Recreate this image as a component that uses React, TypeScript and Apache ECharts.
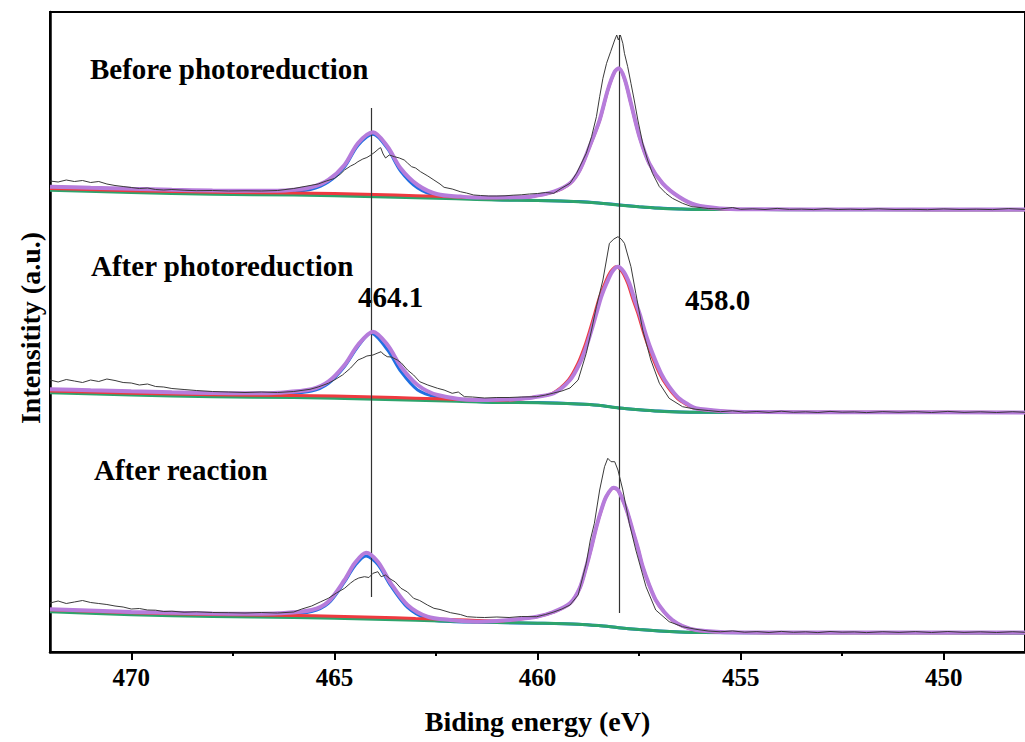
import React, { useEffect, useRef } from "react";
import * as echarts from "echarts";

// ---------- data (binding energy eV, intensity a.u.) ----------
const majorTicks = [450, 455, 460, 465, 470];
const minorTicks = [452.5, 457.5, 462.5, 467.5];
const panelLabels = ["Before photoreduction", "After photoreduction", "After reaction"];
const peakLabels = ["464.1", "458.0"];
const peakLines = [
  { energy: 464.1, from: 55, to: 544 },
  { energy: 458.0, from: 39, to: 617 },
];

// Panel 1: before photoreduction
const beforeBackground = [
  [472, 461.7], [470, 459.5], [468, 457.7], [466, 457], [464, 455.3], [462, 453.2], [461, 452],
  [460, 451.5], [459, 450.3], [458.5, 449], [458, 447], [457.5, 445.2], [457, 443.8], [456.5, 443],
  [456, 442.5], [452, 442.3], [448, 442.2],
];
const beforeTi2p3 = [
  [472, 463.5], [470, 461.3], [468, 459.7], [466, 459], [465, 458.5], [464, 457.5], [463, 456.3],
  [462, 455], [461.5, 454.5], [461, 454.3], [460.6, 454.5], [460.2, 455.1], [459.6, 460.1],
  [459.2, 468.5], [458.96, 481.8], [458.72, 505.1], [458.47, 531.8], [458.27, 561.8], [458.1, 580.1],
  [458.0, 583.5], [457.86, 573.5], [457.7, 548.5], [457.49, 515.1], [457.25, 488.5], [456.92, 468.5],
  [456.52, 455.1], [456.1, 446.8], [455.5, 443.3], [454.9, 442.6], [452, 442.4], [448, 442.3],
];
const beforeTi2p1 = [
  [472, 463], [470, 461], [468, 459.5], [467, 459.3], [466.4, 459.6], [466, 460.5], [465.57, 462.7],
  [465.15, 470], [464.75, 485], [464.42, 506.5], [464.05, 517.7], [463.69, 503.3], [463.37, 481],
  [462.95, 464], [462.46, 456], [461.9, 454], [461.5, 453.3], [461, 452.3], [460, 451.6], [459, 450.4],
  [458.5, 449.1], [458, 447.1], [457.5, 445.3], [457, 443.9], [456.5, 443.1], [456, 442.6],
  [452, 442.4], [448, 442.3],
];
const beforeEnvelope = [
  [472, 465.3], [471, 464.2], [470, 463.2], [469, 462.3], [468, 461.5], [467, 461.2], [466.4, 461.3],
  [466, 462.3], [465.57, 464.7], [465.15, 472], [464.75, 487], [464.42, 508.7], [464.05, 519.7],
  [463.69, 505.3], [463.37, 483.7], [462.95, 467], [462.46, 457.7], [461.9, 455.5], [461.49, 454.5],
  [461, 454.5], [460.6, 454.7], [460.2, 455.3], [459.6, 460.3], [459.2, 468.7], [458.96, 482],
  [458.72, 505.3], [458.47, 532], [458.27, 562], [458.1, 580.3], [458.0, 583.7], [457.86, 573.7],
  [457.7, 548.7], [457.49, 515.3], [457.25, 488.7], [456.92, 468.7], [456.52, 455.3], [456.1, 447],
  [455.5, 443.5], [454.9, 442.7], [452, 442.6], [448, 442.5],
];
const beforeRaw = [
  [472, 471], [471.8, 470], [471.6, 472], [471.4, 470.5], [471.2, 471.5], [471.0, 469.5], [470.8, 470.5],
  [470.6, 468], [470.4, 466.5], [470.2, 465.5], [470.0, 464.5], [469.8, 463.5], [469.6, 464],
  [469.4, 462.5], [469.2, 462], [469.0, 462.5], [468.7, 461.8], [468.4, 461.3], [468.0, 461.5],
  [467.6, 461], [467.2, 461.2], [466.8, 461], [466.4, 461.5], [466.0, 463.5], [465.8, 465],
  [465.6, 466.5], [465.4, 468], [465.2, 471], [465.0, 473.5], [464.85, 478], [464.75, 482],
  [464.6, 486], [464.5, 488], [464.42, 490.3], [464.3, 493], [464.2, 494.5], [464.1, 497],
  [464.0, 500], [463.9, 503.5], [463.86, 504.3], [463.8, 498], [463.74, 494], [463.65, 497],
  [463.52, 495.3], [463.4, 494], [463.28, 492], [463.2, 489], [463.1, 485.3], [463.0, 484],
  [462.88, 480.3], [462.7, 476], [462.55, 472], [462.4, 468], [462.3, 464.7], [462.1, 463],
  [461.9, 460.3], [461.75, 459], [461.57, 457], [461.4, 456.5], [461.2, 456], [461.0, 456],
  [460.8, 456.2], [460.6, 456.8], [460.4, 457.2], [460.2, 458], [460.0, 458.5], [459.8, 459.5],
  [459.6, 458.7], [459.4, 464], [459.2, 468.7], [459.04, 478.7], [458.8, 498.7], [458.67, 515.3],
  [458.55, 535.3], [458.47, 555.3], [458.39, 573.7], [458.3, 588.7], [458.2, 600.3], [458.1, 612],
  [458.05, 617], [458.01, 612], [457.96, 617], [457.9, 608.7], [457.86, 598.7], [457.78, 585.3],
  [457.7, 568.7], [457.62, 552], [457.53, 532], [457.41, 508.7], [457.29, 492], [457.17, 478.7],
  [457.0, 465.3], [456.84, 458.7], [456.68, 453.7], [456.43, 448.7], [456.2, 445.3], [456.0, 444.5],
  [455.8, 443.5], [455.5, 443], [455.2, 444.5], [455.0, 442.7], [454.7, 443.2], [454.4, 442.5],
  [454.1, 443.6], [453.8, 442.6], [453.5, 442.9], [453.2, 442.4], [452.9, 443.3], [452.6, 442.5],
  [452.3, 442.8], [452.0, 442.4], [451.6, 443.2], [451.2, 442.5], [450.8, 442.7], [450.4, 442.3],
  [450.0, 443.1], [449.6, 442.5], [449.2, 442.8], [448.8, 442.4], [448.4, 443.4], [448, 442.6],
];

// Panel 2: after photoreduction
const afterPhotoBackground = [
  [472, 259.2], [470, 257], [468, 255.2], [466, 254.5], [464, 252.8], [462, 250.7], [461, 249.5],
  [460, 249.3], [459, 248], [458.5, 246.7], [458, 244], [457.5, 242.2], [457, 240.8], [456.5, 240],
  [456, 239.7], [452, 239.5], [448, 239.4],
];
const afterPhotoTi2p3 = [
  [472, 261], [470, 258.8], [468, 257.2], [466, 256.5], [465, 256], [464, 255], [463, 253.8],
  [462, 252.5], [461.5, 252], [461, 251.5], [460.5, 252.5], [460.06, 255], [459.64, 258.5],
  [459.24, 272], [459.0, 289], [458.84, 305.5], [458.71, 322], [458.59, 338.7], [458.47, 355.3],
  [458.34, 368.7], [458.2, 380.3], [458.06, 385.3], [457.92, 380.3], [457.78, 368.7], [457.66, 353.7],
  [457.53, 338.7], [457.37, 317], [457.21, 298.7], [457.0, 278.7], [456.8, 265.3], [456.56, 253.7],
  [456.31, 247], [456.14, 243.7], [455.54, 241], [454.9, 240], [452, 239.7], [448, 239.6],
];
const afterPhotoTi2p1 = [
  [472, 260.5], [470, 258.5], [468, 257], [467, 256.8], [466.38, 258], [465.56, 261], [465.15, 268.5],
  [464.75, 285.5], [464.42, 305.5], [464.1, 318.7], [463.69, 302], [463.36, 280.3], [462.95, 262],
  [462.46, 254.7], [461.9, 252], [461.5, 250.5], [461, 249.8], [460, 249.4], [459, 248.1],
  [458.5, 246.8], [458, 244.1], [457.5, 242.3], [457, 240.9], [456.5, 240.1], [456, 239.8],
  [452, 239.6], [448, 239.5],
];
const afterPhotoEnvelope = [
  [472, 262.8], [471, 261.7], [470, 260.7], [469, 259.8], [468, 259], [467, 258.7], [466.38, 259.3],
  [465.56, 262.7], [465.15, 270.3], [464.75, 287], [464.42, 307], [464.05, 320.3], [463.69, 307],
  [463.36, 285.3], [462.95, 267], [462.46, 257], [461.49, 252], [461, 252.2], [460.6, 252.8],
  [460.2, 254], [460.02, 255.3], [459.6, 258.7], [459.2, 272], [458.96, 288.7], [458.8, 305.3],
  [458.67, 322], [458.55, 338.7], [458.43, 355.3], [458.3, 368.7], [458.16, 380.3], [458.02, 385.3],
  [457.88, 380.3], [457.74, 368.7], [457.62, 353.7], [457.49, 338.7], [457.33, 317], [457.17, 298.7],
  [456.96, 278.7], [456.76, 265.3], [456.52, 253.7], [456.27, 247], [456.1, 243.7], [455.5, 241],
  [454.9, 240], [452, 239.7], [448, 239.6],
];
const afterPhotoRaw = [
  [472, 272], [471.8, 270], [471.6, 272.5], [471.4, 271], [471.2, 269.5], [471.0, 272], [470.8, 270.5],
  [470.6, 273], [470.4, 271.5], [470.2, 269.5], [470.0, 269], [469.8, 267], [469.6, 268],
  [469.4, 265.5], [469.2, 265], [469.0, 263.5], [468.7, 262.5], [468.4, 261.5], [468.0, 260.5],
  [467.6, 260], [467.2, 259.5], [466.8, 260], [466.4, 259.5], [466.0, 260.5], [465.6, 262.7],
  [465.4, 265], [465.15, 268.7], [465.0, 272], [464.8, 277], [464.75, 278.7], [464.6, 284],
  [464.42, 292], [464.3, 294], [464.2, 296], [464.05, 297], [463.95, 298.7], [463.85, 300.3],
  [463.8, 298], [463.7, 295.3], [463.6, 295], [463.45, 292], [463.35, 289], [463.2, 282],
  [463.05, 277], [462.9, 270.3], [462.7, 267], [462.46, 263.7], [462.3, 262], [462.1, 258.7],
  [461.95, 260], [461.8, 255.3], [461.6, 255], [461.3, 254], [461.0, 254.5], [460.7, 254.5],
  [460.4, 255], [460.02, 255.3], [459.8, 257], [459.6, 259], [459.4, 261], [459.2, 264], [459.0, 272],
  [458.8, 298.7], [458.67, 322], [458.55, 345.3], [458.39, 372], [458.23, 408.7], [458.12, 413],
  [458.02, 415.3], [457.94, 413], [457.86, 408.7], [457.7, 385.3], [457.58, 358.7], [457.41, 322],
  [457.21, 292], [457.0, 268.7], [456.76, 253.7], [456.43, 245.3], [456.1, 242.7], [455.8, 241.5],
  [455.5, 240.3], [455.2, 241.2], [454.9, 239.8], [454.6, 240.5], [454.3, 239.6], [454.0, 240.8],
  [453.7, 239.7], [453.4, 240.2], [453.1, 239.5], [452.8, 240.6], [452.5, 239.8], [452.2, 240.1],
  [451.9, 239.4], [451.5, 240.4], [451.1, 239.7], [450.7, 240.3], [450.3, 239.5], [449.9, 240.6],
  [449.5, 239.6], [449.1, 240.2], [448.7, 239.5], [448.3, 240.3], [448, 239.7],
];

// Panel 3: after reaction
const afterReactionBackground = [
  [472, 40.3], [470, 37.2], [468, 35.5], [466, 34.5], [464, 32.8], [462, 30.5], [461, 29.5],
  [460, 28.8], [459, 27.8], [458.5, 26.4], [458, 24.3], [457.5, 22.4], [457, 20.9], [456.5, 19.9],
  [456, 19.4], [452, 19.2], [448, 19.1],
];
const afterReactionTi2p3 = [
  [472, 42.3], [470, 39.2], [468, 37.5], [466, 36.5], [465, 35.8], [464, 34.8], [463, 33.5],
  [462, 32.3], [461.5, 31.5], [461, 31], [460.5, 32.6], [460.02, 35.1], [459.61, 39.8], [459.2, 48.5],
  [458.96, 63.8], [458.8, 85.1], [458.67, 105.1], [458.55, 125.1], [458.43, 141.8], [458.31, 155.1],
  [458.13, 164.1], [458.02, 161.8], [457.9, 151.8], [457.78, 138.8], [457.66, 121.8], [457.53, 103.8],
  [457.41, 85.1], [457.25, 66.8], [457.09, 51.8], [456.88, 39.8], [456.68, 31.8], [456.43, 25.8],
  [456.1, 21.8], [455.5, 19.8], [454.9, 19.4], [452, 19.3], [448, 19.3],
];
const afterReactionTi2p1 = [
  [472, 41.5], [470, 38.7], [468, 37], [467, 36.7], [466.38, 37.2], [465.56, 40.5], [465.15, 48.5],
  [464.75, 70], [464.5, 86], [464.22, 96], [463.93, 87.5], [463.61, 66], [463.2, 44.5], [462.71, 33],
  [462.14, 30.5], [461.5, 29.8], [461, 29.4], [460, 28.8], [459, 27.8], [458.5, 26.4], [458, 24.3],
  [457.5, 22.4], [457, 20.9], [456.5, 19.9], [456, 19.4], [452, 19.2], [448, 19.1],
];
const afterReactionEnvelope = [
  [472, 42.8], [470, 40], [468, 38.5], [467, 38.2], [466.38, 38.7], [465.56, 42], [465.15, 50.3],
  [464.75, 72], [464.5, 88.7], [464.22, 99.3], [463.93, 90.3], [463.61, 68.7], [463.2, 47],
  [462.71, 35.3], [462.14, 32], [461.49, 30.3], [461, 31], [460.5, 32.8], [460.02, 35.3], [459.61, 40],
  [459.2, 48.7], [458.96, 64], [458.8, 85.3], [458.67, 105.3], [458.55, 125.3], [458.43, 142],
  [458.31, 155.3], [458.13, 164.3], [458.02, 162], [457.9, 152], [457.78, 139], [457.66, 122],
  [457.53, 104], [457.41, 85.3], [457.25, 67], [457.09, 52], [456.88, 40], [456.68, 32], [456.43, 26],
  [456.1, 22], [455.5, 20], [454.9, 19.6], [452, 19.5], [448, 19.5],
];
const afterReactionRaw = [
  [472, 49], [471.8, 51], [471.6, 48.5], [471.4, 50], [471.2, 51.5], [471.0, 49.5], [470.8, 48.5],
  [470.6, 47.5], [470.4, 46], [470.2, 45], [470.0, 43], [469.8, 43.5], [469.6, 42], [469.4, 41.8],
  [469.2, 40.5], [469.0, 40.8], [468.7, 39.8], [468.4, 40.2], [468.0, 39.5], [467.6, 39.3],
  [467.2, 39], [466.8, 39.5], [466.4, 39], [466.0, 40], [465.8, 43], [465.56, 46], [465.35, 50],
  [465.15, 53.7], [464.95, 59], [464.75, 63.7], [464.6, 69], [464.5, 72], [464.4, 74], [464.26, 75.3],
  [464.15, 74.5], [464.05, 78.7], [463.93, 80.3], [463.85, 75.3], [463.74, 77], [463.65, 73.7],
  [463.5, 70], [463.36, 63.7], [463.2, 60], [463.05, 53.7], [462.9, 51.5], [462.71, 47],
  [462.55, 43.7], [462.4, 42.5], [462.14, 39.3], [461.9, 37.5], [461.73, 35.3], [461.5, 34.7],
  [461.3, 34.5], [461.0, 35], [460.7, 34.5], [460.4, 35.5], [460.02, 35.3], [459.8, 37.5],
  [459.6, 40], [459.4, 43], [459.2, 47], [459.0, 57], [458.8, 88.7], [458.7, 112], [458.6, 128.7],
  [458.47, 162], [458.35, 185.3], [458.27, 193.7], [458.19, 190.3], [458.1, 190.3], [458.02, 182],
  [457.9, 162], [457.74, 128.7], [457.58, 102], [457.33, 65.3], [457.09, 42], [456.76, 30.3],
  [456.43, 25.3], [456.1, 22.7], [455.8, 21], [455.5, 20.2], [455.2, 21.1], [454.9, 19.8],
  [454.6, 20.4], [454.3, 19.5], [454.0, 20.6], [453.7, 19.7], [453.4, 20.2], [453.1, 19.4],
  [452.8, 20.5], [452.5, 19.8], [452.2, 20.1], [451.9, 19.4], [451.5, 20.3], [451.1, 19.6],
  [450.7, 20.4], [450.3, 19.5], [449.9, 20.5], [449.5, 19.6], [449.1, 20.2], [448.7, 19.5],
  [448.3, 20.3], [448, 19.7],
];

const panels = [
  { bg: beforeBackground, p3: beforeTi2p3, p1: beforeTi2p1, env: beforeEnvelope, raw: beforeRaw },
  { bg: afterPhotoBackground, p3: afterPhotoTi2p3, p1: afterPhotoTi2p1, env: afterPhotoEnvelope, raw: afterPhotoRaw },
  { bg: afterReactionBackground, p3: afterReactionTi2p3, p1: afterReactionTi2p1, env: afterReactionEnvelope, raw: afterReactionRaw },
];

// ---------- styles ----------
const FONT = '"Liberation Serif", "Times New Roman", serif';
const C_GREEN = "#2DA46C";
const C_RED = "#EE3A40";
const C_BLUE = "#1F6FE2";
const C_PURPLE = "#B67CDB";
const C_RAW = "#3a3a3a";

function fitSeries(name: string, data: number[][], color: string, width: number, z: number) {
  return {
    type: "line",
    name,
    data,
    symbol: "none",
    showSymbol: false,
    smooth: 0.3,
    silent: true,
    z,
    lineStyle: { color, width },
  };
}

export default function App() {
  const ref = useRef<HTMLDivElement>(null);

  useEffect(() => {
    if (!ref.current) return;
    const chart = echarts.init(ref.current, null, { renderer: "svg" });
    const series: any[] = [];
    panels.forEach((p, i) => {
      series.push(fitSeries(`p1${i}`, p.p1, C_BLUE, 3, 2));
      series.push(fitSeries(`bg${i}`, p.bg, C_GREEN, 3, 3));
      series.push(fitSeries(`p3${i}`, p.p3, C_RED, 3, 4));
      series.push(fitSeries(`env${i}`, p.env, C_PURPLE, 4, 5));
      series.push({
        type: "line",
        name: `raw${i}`,
        data: p.raw,
        symbol: "none",
        showSymbol: false,
        silent: true,
        z: 6,
        lineStyle: { color: C_RAW, width: 1 },
      });
    });
    series.push({
      type: "line",
      name: "peaks",
      data: [],
      symbol: "none",
      z: 7,
      markLine: {
        silent: true,
        symbol: "none",
        label: { show: false },
        lineStyle: { color: "#333", width: 1.2, type: "solid" },
        data: peakLines.map((l) => [
          { coord: [l.energy, l.from] },
          { coord: [l.energy, l.to] },
        ]),
      },
    });

    const textStyle = (x: number, y: number, text: string, align = "left") => ({
      type: "text",
      x,
      y,
      silent: true,
      style: {
        text,
        fill: "#000",
        font: `bold 29px ${FONT}`,
        align,
        verticalAlign: "middle",
      },
    });

    const baseAxis = {
      type: "value",
      min: 448,
      max: 472,
      inverse: true,
      splitLine: { show: false },
    };

    chart.setOption({
      animation: false,
      grid: { left: 50, right: -9, top: 12, bottom: 90, show: true, borderColor: "#000", borderWidth: 2 },
      xAxis: [
        {
          ...baseAxis,
          position: "bottom",
          name: "Biding energy (eV)",
          nameLocation: "middle",
          nameGap: 55,
          nameTextStyle: { fontFamily: FONT, fontWeight: "bold", fontSize: 28, color: "#000" },
          axisLine: { show: true, lineStyle: { color: "#000", width: 2.5 } },
          axisTick: { show: true, inside: false, length: 8, customValues: majorTicks, lineStyle: { color: "#000", width: 2 } },
          axisLabel: {
            show: true,
            customValues: majorTicks,
            margin: 13,
            fontFamily: FONT,
            fontWeight: "bold",
            fontSize: 25,
            color: "#000",
          },
        },
        {
          ...baseAxis,
          position: "bottom",
          axisLine: { show: false },
          axisTick: { show: true, inside: false, length: 4, customValues: minorTicks, lineStyle: { color: "#000", width: 2 } },
          axisLabel: { show: false },
        },
      ],
      yAxis: {
        type: "value",
        min: 0,
        max: 640,
        name: "Intensitity (a.u.)",
        nameLocation: "middle",
        nameGap: 6,
        nameTextStyle: { fontFamily: FONT, fontWeight: "bold", fontSize: 28, color: "#000", padding: [0, 0, 0, 8] },
        axisLine: { show: true, lineStyle: { color: "#000", width: 2.5 } },
        axisTick: { show: false },
        axisLabel: { show: false },
        splitLine: { show: false },
      },
      series,
      graphic: [
        textStyle(90, 69, panelLabels[0]),
        textStyle(91, 266, panelLabels[1]),
        textStyle(94, 470, panelLabels[2]),
        textStyle(358, 297, peakLabels[0]),
        textStyle(685, 300, peakLabels[1]),
      ],
    });
    return () => chart.dispose();
  }, []);

  return (
    <div
      ref={ref}
      style={{ position: "fixed", left: 0, top: 0, width: 1025, height: 742, background: "#fff" }}
    />
  );
}
